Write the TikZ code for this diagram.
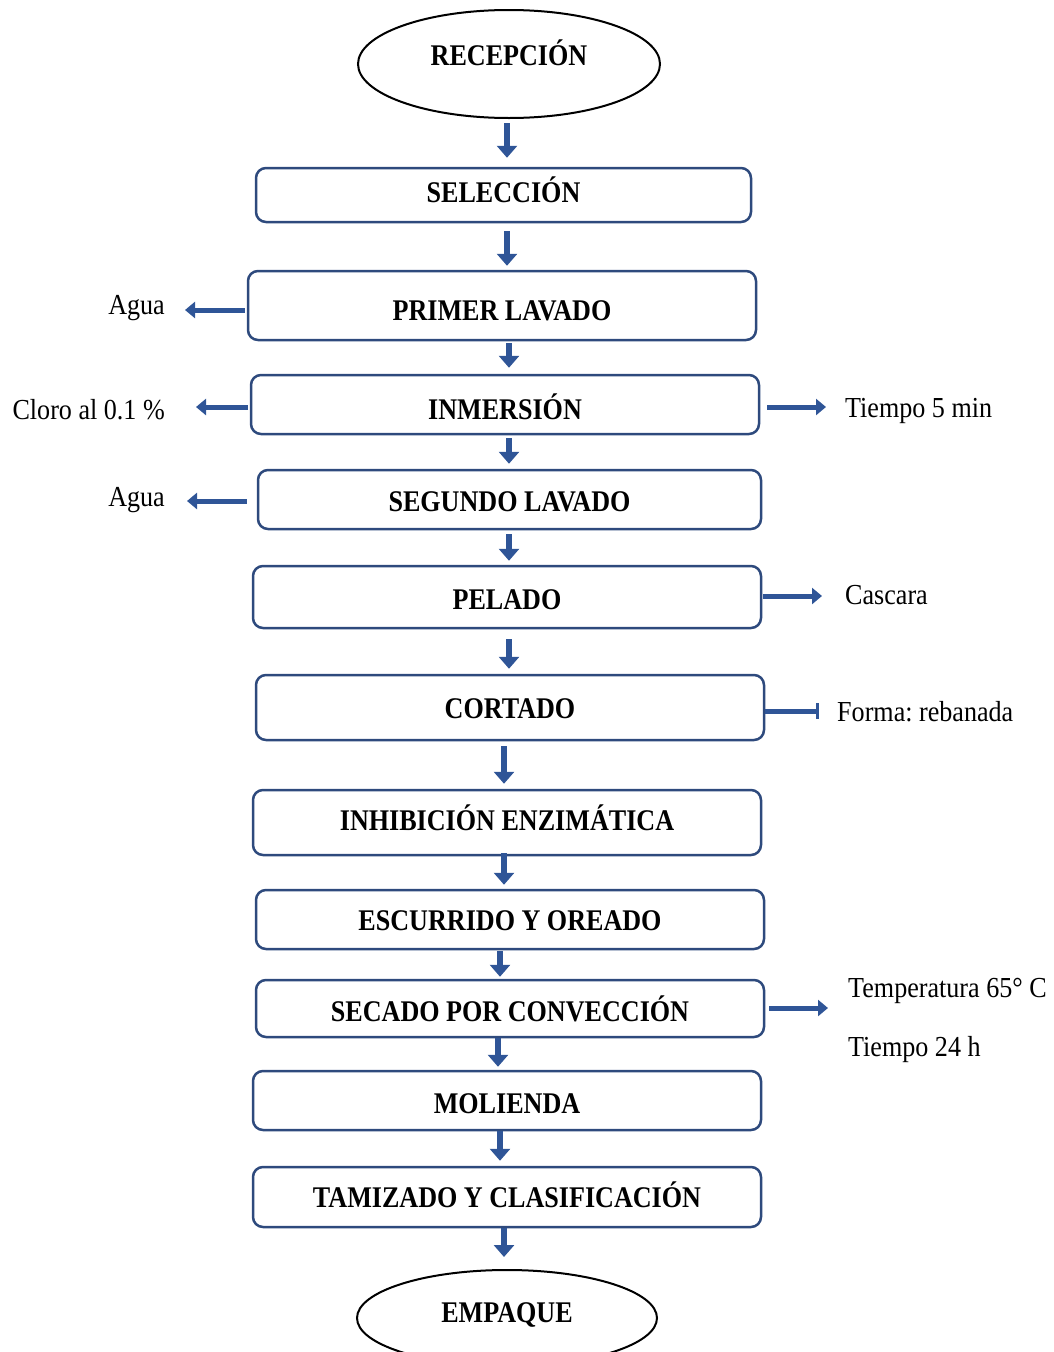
\documentclass[tikz,border=0pt]{standalone}
\usepackage{fontspec}
\setmainfont{Liberation Serif}
\newfontfamily\stepfont{Liberation Serif}[FakeStretch=0.87]
\newfontfamily\notefont{Liberation Serif}[FakeStretch=0.9]
\usetikzlibrary{arrows.meta,shapes.geometric}
\definecolor{boxline}{HTML}{2E4A7D}
\definecolor{flowblue}{HTML}{2F5597}
\frenchspacing
% step title set at a given height, without changing the box size
\newcommand\steptitle[2]{\raisebox{#1}[0pt][0pt]{#2}}
\tikzset{
  stepbox/.style={draw=boxline, line width=2.5pt, rounded corners=10pt,
    inner sep=0pt, minimum height=#1, font=\stepfont\bfseries\fontsize{30}{34}\selectfont},
  endpoint/.style={draw=black, line width=2pt, ellipse, inner sep=0pt,
    font=\stepfont\bfseries\fontsize{30}{34}\selectfont},
  note/.style={inner sep=0pt, font=\notefont\fontsize{29}{33}\selectfont},
  flow/.style={draw=flowblue, line width=6pt,
    -{Triangle[width=20pt,length=12pt]}},
  sideflow/.style={draw=flowblue, line width=5pt,
    -{Triangle[width=16pt,length=10pt]}},
  sidebar/.style={draw=flowblue, line width=5pt,
    -{Bar[width=16pt,line width=3pt]}},
}
\begin{document}
\begin{tikzpicture}[x=1pt,y=-1pt]
\useasboundingbox (0,0) rectangle (1054,1352);
\clip (0,0) rectangle (1054,1352);

% process steps, top to bottom
\node[endpoint, minimum width=302pt, minimum height=108pt] (rec) at (509,64) {\steptitle{-1pt}{RECEPCIÓN}};
\node[stepbox=54pt, minimum width=495pt] (sel) at (503.5,195) {\steptitle{-7pt}{SELECCIÓN}};
\node[stepbox=69pt, minimum width=508pt] (lav1) at (502,305.5) {\steptitle{-15pt}{PRIMER LAVADO}};
\node[stepbox=59pt, minimum width=508pt] (inm) at (505,404.5) {\steptitle{-15pt}{INMERSIÓN}};
\node[stepbox=59pt, minimum width=503pt] (lav2) at (509.5,499.5) {\steptitle{-11.5pt}{SEGUNDO LAVADO}};
\node[stepbox=62pt, minimum width=508pt] (pel) at (507,597) {\steptitle{-12pt}{PELADO}};
\node[stepbox=65pt, minimum width=508pt] (cor) at (510,707.5) {\steptitle{-10.5pt}{CORTADO}};
\node[stepbox=65pt, minimum width=508pt] (inh) at (507,822.5) {\steptitle{-7.5pt}{INHIBICIÓN ENZIMÁTICA}};
\node[stepbox=59pt, minimum width=508pt] (esc) at (510,919.5) {\steptitle{-10.5pt}{ESCURRIDO Y OREADO}};
\node[stepbox=57pt, minimum width=508pt] (sec) at (510,1008.5) {\steptitle{-12.5pt}{SECADO POR CONVECCIÓN}};
\node[stepbox=59pt, minimum width=508pt] (mol) at (507,1100.5) {\steptitle{-12.5pt}{MOLIENDA}};
\node[stepbox=60pt, minimum width=508pt] (tam) at (507,1197) {\steptitle{-10pt}{TAMIZADO Y CLASIFICACIÓN}};
\node[endpoint, minimum width=300pt, minimum height=96pt] (emp) at (507,1318) {\steptitle{-4pt}{EMPAQUE}};

% main flow
\draw[flow] ([yshift=-4pt]rec.south -| 507,0) -- ([yshift=9pt]sel.north -| 507,0);
\draw[flow] ([yshift=-8pt]sel.south -| 507,0) -- ([yshift=4pt]lav1.north -| 507,0);
\draw[flow] ([yshift=-2pt]lav1.south -| 509,0) -- ([yshift=6pt]inm.north -| 509,0);
\draw[flow] ([yshift=-3pt]inm.south -| 509,0) -- ([yshift=5pt]lav2.north -| 509,0);
\draw[flow] ([yshift=-4pt]lav2.south -| 509,0) -- ([yshift=4pt]pel.north -| 509,0);
\draw[flow] ([yshift=-10pt]pel.south -| 509,0) -- ([yshift=5pt]cor.north -| 509,0);
\draw[flow] ([yshift=-5pt]cor.south -| 504,0) -- ([yshift=5pt]inh.north -| 504,0);
\draw[flow] ([yshift=3pt]inh.south -| 504,0) -- ([yshift=4pt]esc.north -| 504,0);
\draw[flow] ([yshift=-1pt]esc.south -| 500,0) -- ([yshift=2pt]sec.north -| 500,0);
\draw[flow] ([yshift=0pt]sec.south -| 498,0) -- ([yshift=3pt]mol.north -| 498,0);
\draw[flow] ([yshift=0pt]mol.south -| 500,0) -- ([yshift=5pt]tam.north -| 500,0);
\draw[flow] ([yshift=0pt]tam.south -| 504,0) -- ([yshift=12pt]emp.north -| 504,0);

% inputs and conditions beside the steps
\node[note, anchor=east] (agua1) at (165,308) {Agua};
\node[note, anchor=east] (cloro) at (165,410) {Cloro al 0.1 \%};
\node[note, anchor=east] (agua2) at (165,500) {Agua};
\node[note, anchor=west] (tiempo5) at (845,411) {Tiempo 5 min};
\node[note, anchor=west] (cascara) at (845,595) {Cascara};
\node[note, anchor=west] (forma) at (837,712) {Forma: rebanada};
\node[note, anchor=west] (temp) at (848,991) {Temperatura 65° C};
\node[note, anchor=west] (t24) at (848,1050) {Tiempo 24 h};

\draw[sideflow] ([xshift=-2pt]lav1.west |- 0,310) -- ([xshift=20pt]agua1.east |- 0,310);
\draw[sideflow] ([xshift=-2pt]inm.west |- 0,407) -- ([xshift=31pt]cloro.east |- 0,407);
\draw[sideflow] ([xshift=-10pt]lav2.west |- 0,501) -- ([xshift=22pt]agua2.east |- 0,501);
\draw[sideflow] ([xshift=7pt]inm.east |- 0,407) -- ([xshift=-19pt]tiempo5.west |- 0,407);
\draw[sideflow] ([xshift=1pt]pel.east |- 0,596) -- ([xshift=-23pt]cascara.west |- 0,596);
\draw[sidebar] (cor.east |- 0,711) -- ([xshift=-18pt]forma.west |- 0,711);
\draw[sideflow] ([xshift=4pt]sec.east |- 0,1008) -- ([xshift=-20pt]temp.west |- 0,1008);
\end{tikzpicture}
\end{document}
